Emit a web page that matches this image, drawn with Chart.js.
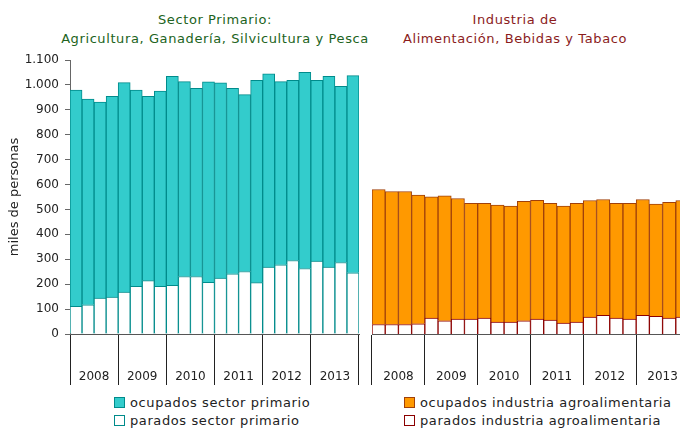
<!DOCTYPE html>
<html lang="es">
<head>
    <meta charset="UTF-8">
    <title>Sector primario e industria agroalimentaria</title>
    <script src="https://cdn.jsdelivr.net/npm/chart.js"></script>
    <style>
        html, body { margin: 0; padding: 0; overflow: hidden; background: #fff; }
        #wrap { position: relative; width: 680px; height: 431px; overflow: hidden; font-family: "DejaVu Sans", sans-serif; }
        .title { position: absolute; text-align: center; font-size: 13px; line-height: 18.5px; letter-spacing: 0.6px; }
        .legend { position: absolute; font-size: 13px; line-height: 18px; letter-spacing: 0.6px; color: #222; }
        .legend span.box { display: inline-block; width: 9px; height: 9px; margin-right: 5px; vertical-align: -1px; }
        canvas { position: absolute; top: 0; }
    </style>
</head>
<body>
<div id="wrap">
    <div class="title" style="left:0;width:430px;top:11px;color:#216321">Sector Primario:<br>Agricultura, Ganadería, Silvicultura y Pesca</div>
    <div class="title" style="left:365px;width:300px;top:11px;color:#8b1c1c">Industria de<br>Alimentación, Bebidas y Tabaco</div>

    <canvas id="primario" width="366" height="390" style="left:0"></canvas>
    <canvas id="industria" width="329" height="390" style="left:366px"></canvas>

    <div class="legend" style="left:114px;top:394px">
        <div><span class="box" style="background:#33cccc;border:1px solid #008b8b"></span>ocupados sector primario</div>
        <div><span class="box" style="background:#fff;border:1px solid #008b8b"></span>parados sector primario</div>
    </div>
    <div class="legend" style="left:404px;top:394px">
        <div><span class="box" style="background:#ff9900;border:1px solid #a0400a"></span>ocupados industria agroalimentaria</div>
        <div><span class="box" style="background:#fff;border:1px solid #8b0000"></span>parados industria agroalimentaria</div>
    </div>
</div>

<script>
    const years = ['2008', '2009', '2010', '2011', '2012', '2013'];
    const quarters = [
        '2008-T1', '2008-T2', '2008-T3', '2008-T4',
        '2009-T1', '2009-T2', '2009-T3', '2009-T4',
        '2010-T1', '2010-T2', '2010-T3', '2010-T4',
        '2011-T1', '2011-T2', '2011-T3', '2011-T4',
        '2012-T1', '2012-T2', '2012-T3', '2012-T4',
        '2013-T1', '2013-T2', '2013-T3', '2013-T4'
    ];

    // miles de personas
    const ocupadosPrimario = [868, 826, 787, 806, 841, 788, 740, 784, 839, 782, 755, 805,
                              784, 744, 710, 812, 775, 735, 723, 788, 725, 765, 707, 791];
    const paradosPrimario  = [111, 117, 144, 148, 168, 191, 214, 191, 195, 231, 231, 207,
                              224, 242, 251, 206, 269, 278, 295, 263, 293, 269, 287, 246];

    const ocupadosIndustria = [542, 534, 534, 517, 487, 502, 484, 465, 461, 470, 466, 480,
                               477, 469, 470, 477, 468, 465, 461, 465, 465, 451, 465, 468];
    const paradosIndustria  = [38, 38, 38, 41, 64, 53, 60, 60, 64, 48, 48, 53,
                               60, 56, 44, 48, 68, 75, 64, 60, 75, 71, 64, 68];

    Chart.defaults.font.family = '"DejaVu Sans", sans-serif';
    Chart.defaults.font.size = 12;
    Chart.defaults.color = '#222';

    const miles = v => String(v).replace(/\B(?=(\d{3})+(?!\d))/g, '.');

    function xAxis(halfBar) {
        return {
            stacked: true,
            offset: true,
            grid: {
                offset: true,
                drawOnChartArea: false,
                tickLength: 51,
                color: ctx => (ctx.index === undefined || ctx.index % 4 === 0) ? '#222' : 'rgba(0,0,0,0)'
            },
            border: { color: '#555', width: 1 },
            ticks: {
                autoSkip: false,
                maxRotation: 0,
                padding: -15,
                labelOffset: halfBar,
                callback: (v, i) => i % 4 === 1 ? years[Math.floor(i / 4)] : ''
            },
            afterFit: s => { s.height = 52; }
        };
    }

    function makeChart(id, ocupados, parados, fill, border, paradoBorder, withAxis, halfBar) {
        new Chart(document.getElementById(id), {
            type: 'bar',
            data: {
                labels: quarters,
                datasets: [
                    { label: 'parados', data: parados, backgroundColor: '#ffffff', borderColor: paradoBorder,
                      borderWidth: 1, barPercentage: 1, categoryPercentage: 1 },
                    { label: 'ocupados', data: ocupados, backgroundColor: fill, borderColor: border,
                      borderWidth: 1, barPercentage: 1, categoryPercentage: 1 }
                ]
            },
            options: {
                responsive: false,
                animation: false,
                layout: { padding: withAxis ? { top: 60, bottom: 4, left: 0, right: 7 } : { top: 60, bottom: 4, left: 6, right: 6 } },
                plugins: { legend: { display: false }, tooltip: { enabled: false } },
                scales: {
                    x: xAxis(halfBar),
                    y: {
                        display: withAxis,
                        stacked: true,
                        min: 0,
                        max: 1100,
                        grid: { drawOnChartArea: false, tickLength: 5, color: '#666' },
                        border: { color: '#666' },
                        ticks: { stepSize: 100, padding: 6, callback: v => miles(v) },
                        title: { display: withAxis, text: 'miles de personas', font: { size: 13 }, padding: { top: 7, bottom: 0 } },
                        afterFit: s => { s.width = withAxis ? 70 : 0; }
                    }
                }
            }
        });
    }

    makeChart('primario', ocupadosPrimario, paradosPrimario, '#33cccc', '#008b8b', '#008b8b', true, 6);
    makeChart('industria', ocupadosIndustria, paradosIndustria, '#ff9900', '#a0400a', '#8b0000', false, 6.6);
</script>
</body>
</html>
